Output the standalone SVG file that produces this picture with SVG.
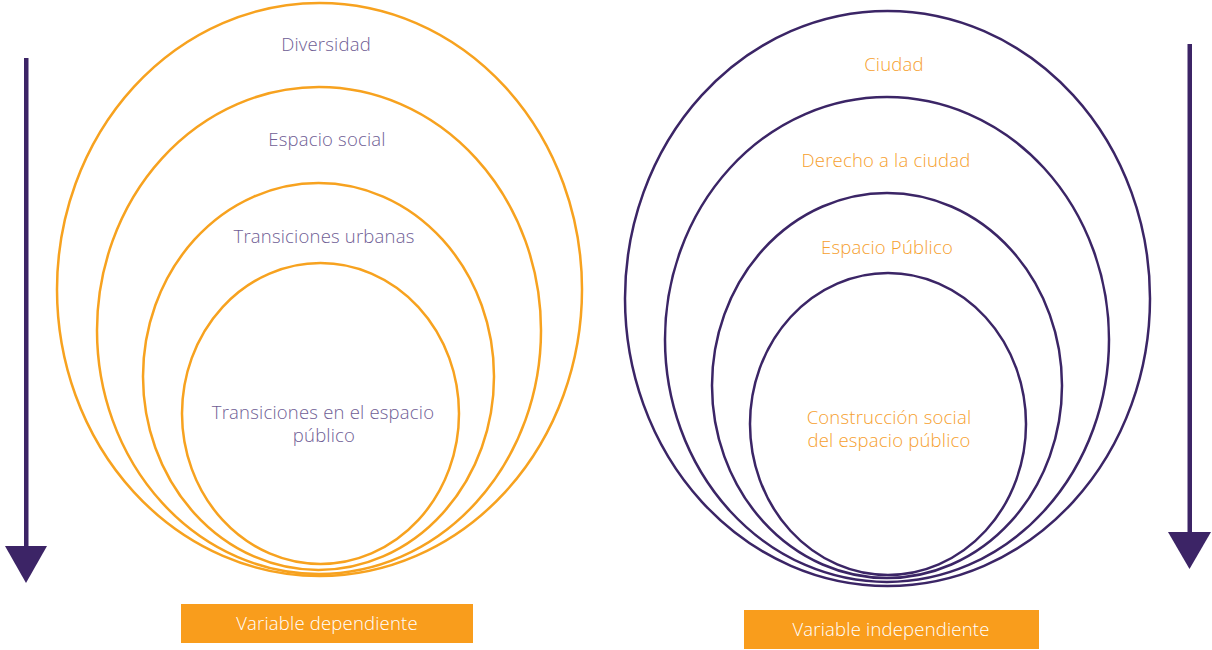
<svg xmlns="http://www.w3.org/2000/svg" width="1212" height="650" viewBox="0 0 1212 650">
<style>
.o{fill:none;stroke:#f7a21f;stroke-width:2.5}
.p{fill:none;stroke:#3b2566;stroke-width:2.5}
text{font-family:"Open Sans","Liberation Sans",sans-serif;font-size:18.5px;font-weight:300;letter-spacing:0.2px;text-anchor:middle}
.tp{fill:#6f5e95}
.to{fill:#f6a02e}
.tw{fill:#ffffff}
.lab{fill:#f99d1c}
.arr{fill:#3c2466}
</style>
<rect width="1212" height="650" fill="#ffffff"/>
<g id="left-set">
<g id="n-diversidad"><ellipse class="o" cx="319.5" cy="289.5" rx="262.5" ry="286.5"/><text class="tp" x="326" y="51">Diversidad</text></g>
<g id="n-espacio-social"><ellipse class="o" cx="319" cy="330.5" rx="222" ry="243.5"/><text class="tp" x="327" y="146">Espacio social</text></g>
<g id="n-transiciones-urbanas"><ellipse class="o" cx="318.5" cy="376.5" rx="175.5" ry="193.5"/><text class="tp" x="324" y="243">Transiciones urbanas</text></g>
<g id="n-transiciones-ep"><ellipse class="o" cx="320.5" cy="413.5" rx="138.5" ry="150.5"/><text class="tp" x="323" y="419">Transiciones en el espacio</text><text class="tp" x="324" y="442">público</text></g>
</g>
<g id="right-set">
<g id="n-ciudad"><ellipse class="p" cx="887.5" cy="298.5" rx="262.5" ry="287.5"/><text class="to" x="894" y="71">Ciudad</text></g>
<g id="n-derecho"><ellipse class="p" cx="887" cy="339.5" rx="222" ry="242.5"/><text class="to" x="886" y="167">Derecho a la ciudad</text></g>
<g id="n-espacio-publico"><ellipse class="p" cx="887" cy="385.5" rx="175" ry="192.5"/><text class="to" x="887" y="254">Espacio Público</text></g>
<g id="n-construccion"><ellipse class="p" cx="888" cy="424" rx="138" ry="151"/><text class="to" x="889" y="424">Construcción social</text><text class="to" x="889" y="447">del espacio público</text></g>
</g>
<g id="connectors">
<rect class="arr" x="24" y="58" width="4.5" height="490"/>
<polygon class="arr" points="5,546 47,546 26,583"/>
<rect class="arr" x="1187.5" y="44" width="4.5" height="490"/>
<polygon class="arr" points="1168,532 1211,532 1189.5,569"/>
</g>
<g id="label-dep"><rect class="lab" x="181" y="604" width="292" height="39"/><text class="tw" x="327" y="630">Variable dependiente</text></g>
<g id="label-indep"><rect class="lab" x="744" y="610" width="295" height="39"/><text class="tw" x="891" y="636">Variable independiente</text></g>
</svg>
